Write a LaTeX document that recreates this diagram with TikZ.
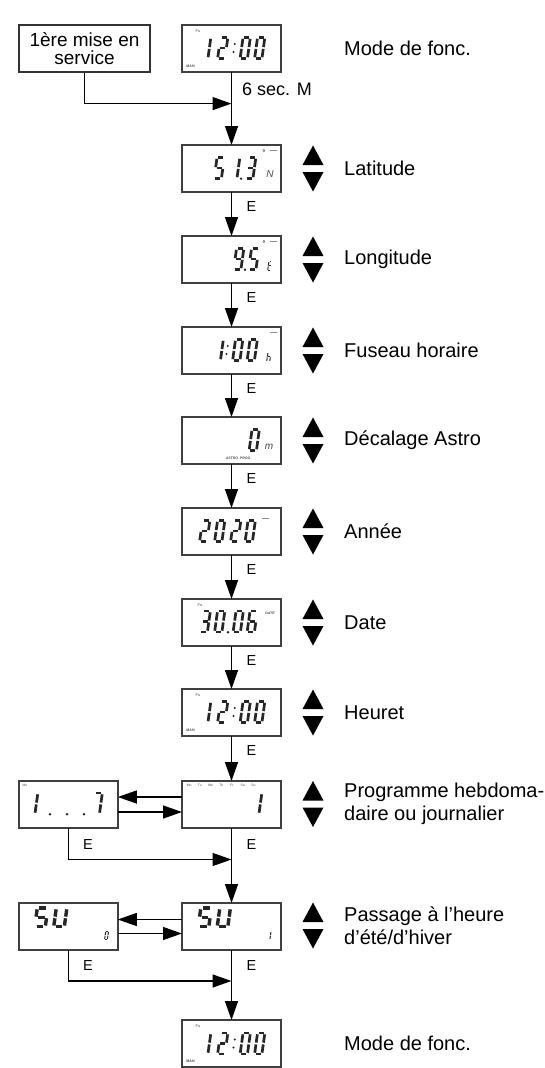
\documentclass[tikz,border=0pt]{standalone}
\usepackage{fontspec}
\setmainfont{Liberation Sans}
\usetikzlibrary{arrows.meta}
% seven-segment geometry (local units, y downwards, bottom at 0, top at -24)
\def\sga{(2.8,-22.6)--(7.4,-22.6)}
\def\sgb{(8.7,-21.2)--(8.7,-12.9)}
\def\sgc{(8.7,-11.1)--(8.7,-2.8)}
\def\sgd{(2.8,-1.4)--(7.4,-1.4)}
\def\sge{(1.4,-11.1)--(1.4,-2.8)}
\def\sgf{(1.4,-21.2)--(1.4,-12.9)}
\def\sgg{(2.8,-12)--(7.4,-12)}
\newcommand\lcdd[4][]{\begin{scope}[shift={(#2,#3)},xslant=0.14,line width=2.7pt,line cap=butt,black!85,#1]
  \foreach \s in {#4}{\expandafter\draw\csname sg\s\endcsname;}\end{scope}}
\newcommand\lcdcolon[2]{\fill[black!85] (#1,#2-8) circle[radius=1.1pt] (#1+1.2,#2-16) circle[radius=1.1pt];}
\newcommand\lcddot[2]{\fill[black!85] (#1,#2-1.3) circle[radius=1.3pt];}
\newcommand\smudge[2]{\fill[black!45] (#1,#2) rectangle +(7,-1.5);}
\newcommand\updown[1]{\fill[black] (302.5,#1-3.5) -- (323.5,#1-3.5) -- (313,#1-23) -- cycle;
  \fill[black] (302.5,#1+3.5) -- (323.5,#1+3.5) -- (313,#1+23) -- cycle;}
\newcommand\clockface[1]{% #1 = top of display
  \lcdd{199}{#1+35}{b,c}\lcdd{216}{#1+35}{a,b,g,e,d}\lcdcolon{233.5}{#1+35}
  \lcdd{238.5}{#1+35}{a,b,c,d,e,f}\lcdd{253}{#1+35}{a,b,c,d,e,f}
  \node[tiny] at (198,#1+6) {Fu};
  \node[tiny,font=\bfseries\fontsize{3.6}{4}\selectfont] at (190.5,#1+41) {MAN};}
\begin{document}
\begin{tikzpicture}[x=1pt,y=-1pt,
  disp/.style={draw=black!75, line width=1.5pt, minimum width=99pt, minimum height=47pt, inner sep=0pt, outer sep=0pt},
  arr/.style={line width=1.4pt, -{Triangle[length=19pt,width=13pt]}},
  lbl/.style={anchor=west, inner sep=0pt, font=\fontsize{20}{23}\selectfont, align=left},
  elbl/.style={anchor=west, inner sep=0pt, font=\fontsize{14.5}{16}\selectfont},
  tiny/.style={inner sep=0pt, font=\fontsize{4}{4}\selectfont, text=black!70}
]
\useasboundingbox (0,0) rectangle (545,1068);

% ---------- displays ----------
\node[disp] (dT)   at (231.5,48.5)  {};
\node[draw=black!80, line width=1.5pt, minimum width=131pt, minimum height=47pt, inner sep=0pt,
      align=center, font=\fontsize{19}{17.7}\selectfont] (b0) at (84.5,48.5) {1ère mise en\\service};
\node[disp] (dLat) at (231.5,168.5) {};
\node[disp] (dLon) at (231.5,259.5) {};
\node[disp] (dFus) at (231.5,350.5) {};
\node[disp] (dDec) at (231.5,440.5) {};
\node[disp] (dAnn) at (231.5,531.5) {};
\node[disp] (dDat) at (231.5,622.5) {};
\node[disp] (dHeu) at (231.5,712.5) {};
\node[disp] (pR)   at (231.5,804.5) {};
\node[disp] (pL)   at (68.3,804.5)  {};
\node[disp] (sR)   at (231.5,926.5) {};
\node[disp] (sL)   at (68.3,926.5)  {};
\node[disp] (dF)   at (231.5,1043.5) {};

% ---------- connectors ----------
\coordinate (j0) at (231.5,103.6);
\draw[arr] (b0.south) |- (j0);
\node[anchor=west, inner sep=0pt, font=\fontsize{18}{18}\selectfont] (t6) at (242,89.7) {6 sec. M};
\draw[arr] (dT.south) -- (dLat.north);
\draw[arr] (dLat.south) -- (dLon.north);
\draw[arr] (dLon.south) -- (dFus.north);
\draw[arr] (dFus.south) -- (dDec.north);
\draw[arr] (dDec.south) -- (dAnn.north);
\draw[arr] (dAnn.south) -- (dDat.north);
\draw[arr] (dDat.south) -- (dHeu.north);
\draw[arr] (dHeu.south) -- (pR.north);
\draw[arr] ([yshift=7.5pt]pR.west) -- ([yshift=7.5pt]pL.east);
\draw[arr] ([yshift=-7.5pt]pL.east) -- ([yshift=-7.5pt]pR.west);
\coordinate (jP) at (231.5,859.5);
\draw[arr] (pL.south) |- (jP);
\draw[arr] (pR.south) -- (sR.north);
\draw[arr] ([yshift=7pt]sR.west) -- ([yshift=7pt]sL.east);
\draw[arr] ([yshift=-7pt]sL.east) -- ([yshift=-7pt]sR.west);
\coordinate (jS) at (231.5,981);
\draw[arr] (sL.south) |- (jS);
\draw[arr] (sR.south) -- (dF.north);

% E labels
\node[elbl] (e1) at (246.5,207) {E};
\node[elbl] (e2) at (246.5,298) {E};
\node[elbl] (e3) at (246.5,389) {E};
\node[elbl] (e4) at (246.5,479) {E};
\node[elbl] (e5) at (246.5,570) {E};
\node[elbl] (e6) at (246.5,661) {E};
\node[elbl] (e7) at (246.5,751) {E};
\node[elbl] (e8) at (83,844.5) {E};
\node[elbl] (e9) at (246.5,844.5) {E};
\node[elbl] (e10) at (83,965.5) {E};
\node[elbl] (e11) at (246.5,965.5) {E};

% ---------- up/down keys ----------
\updown{168.5}\updown{259.5}\updown{350.5}\updown{440.5}
\updown{531.5}\updown{622.5}\updown{712.5}\updown{804}\updown{925.5}

% ---------- labels ----------
\node[lbl] (lT)   at (344,48.5)  {Mode de fonc.};
\node[lbl] (lLat) at (344,168.5) {Latitude};
\node[lbl] (lLon) at (344,259.5) {Longitude};
\node[lbl] (lFus) at (344,350.5) {Fuseau horaire};
\node[lbl] (lDec) at (344,440.5) {Décalage Astro};
\node[lbl] (lAnn) at (344,531.5) {Année};
\node[lbl] (lDat) at (344,622.5) {Date};
\node[lbl] (lHeu) at (344,712.5) {Heuret};
\node[lbl] (lPr)  at (344,804)   {Programme hebdoma-\\daire ou journalier};
\node[lbl] (lSU)  at (344,925.5) {Passage à l’heure\\d’été/d’hiver};
\node[lbl] (lF)   at (344,1043.5) {Mode de fonc.};

% ---------- LCD contents ----------
\clockface{25}
% latitude 5 1.3 N
\lcdd{212.5}{180}{a,f,g,c,d}\lcdd{228}{180}{b,c}\lcddot{241}{180}\lcdd{244}{180}{a,b,g,c,d}
\node[inner sep=0pt,font=\fontsize{8}{8}\selectfont] at (264,153) {°};
\smudge{270}{151}
\node[inner sep=0pt,font=\itshape\fontsize{10}{10}\selectfont,text=black!70] at (270,174) {N};
% longitude 9.5 E
\lcdd{232}{271}{a,b,c,d,f,g}\lcddot{245}{271}\lcdd{247}{271}{a,f,g,c,d}
\node[inner sep=0pt,font=\fontsize{8}{8}\selectfont] at (264,244) {°};
\smudge{270}{242}
\lcdd[scale=0.42,line width=1pt]{267}{271}{a,d,e,f,g}
% fuseau 1:00 h
\lcdd{211.5}{362}{b,c}\lcdcolon{226.5}{362}\lcdd{231}{362}{a,b,c,d,e,f}\lcdd{245.5}{362}{a,b,c,d,e,f}
\lcdd[scale=0.42,line width=1pt]{266}{362}{f,e,g,c}
\smudge{270}{333}
% decalage 0 m
\lcdd{247.5}{452}{a,b,c,d,e,f}
\node[inner sep=0pt,font=\itshape\fontsize{10}{10}\selectfont,text=black!75] at (269,447) {m};
\node[tiny,font=\bfseries\itshape\fontsize{3.5}{4}\selectfont] at (238,458) {ASTRO\ \ PROG};
% annee 2020
\lcdd{198}{543}{a,b,g,e,d}\lcdd{213}{543}{a,b,c,d,e,f}\lcdd{229}{543}{a,b,g,e,d}\lcdd{243.5}{543}{a,b,c,d,e,f}
\smudge{262}{519}
% date 30.06
\lcdd{198.5}{633.5}{a,b,g,c,d}\lcdd{213}{633.5}{a,b,c,d,e,f}\lcddot{228}{633.5}
\lcdd{231.5}{633.5}{a,b,c,d,e,f}\lcdd{245.5}{633.5}{a,f,g,e,d,c}
\node[tiny,font=\bfseries\itshape\fontsize{3.5}{4}\selectfont] at (270,613) {DATE};
\node[tiny] at (200,605) {Fu};
% heure
\clockface{689}
% programme right
\foreach \d [count=\k] in {Mo,Tu,We,Th,Fr,Sa,Su}{\node[tiny,font=\fontsize{3.4}{4}\selectfont] at (178.5+10.7*\k,785.5) {\d};}
\lcdd{250}{815.5}{b,c}
% programme left
\node[tiny,font=\fontsize{3.4}{4}\selectfont] at (25,785.5) {Mo};
\lcdd{26}{815.5}{b,c}
\lcddot{50}{815.5}\lcddot{67}{815.5}\lcddot{84}{815.5}
\lcdd{90.5}{815.5}{a,b,c}
% SU rows
\lcdd[xscale=1.45,yscale=0.88,line width=3.4pt]{32.5}{928}{a,f,g,c,d}
\lcdd[xscale=1.45,yscale=0.88,line width=3.4pt]{51.5}{928}{b,c,d,e,f}
\lcdd[scale=0.38,line width=1pt]{104}{940}{a,b,c,d,e,f}
\lcdd[xscale=1.45,yscale=0.88,line width=3.4pt]{196}{928}{a,f,g,c,d}
\lcdd[xscale=1.45,yscale=0.88,line width=3.4pt]{215}{928}{b,c,d,e,f}
\lcdd[scale=0.38,line width=1pt]{266.5}{940}{b,c}
% final
\clockface{1020.5}
\end{tikzpicture}
\end{document}
